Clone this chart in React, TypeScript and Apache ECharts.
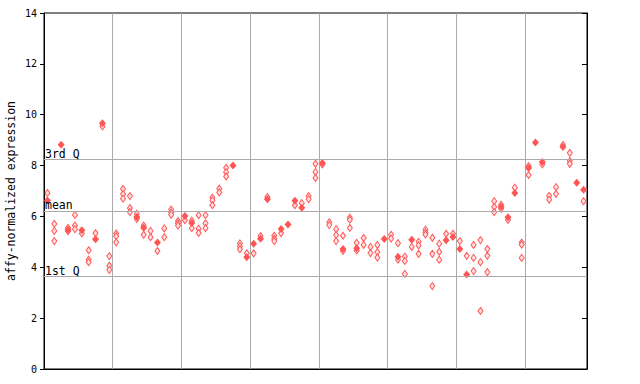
import React, { useEffect, useRef } from "react";
import * as echarts from "echarts";

// replicate values per sample (hollow diamonds)
const hollowValues: number[][] = [
  [6.92], [5.71, 5.43, 5.03], [], [5.55, 5.42], [6.06, 5.64, 5.5],
  [5.33], [4.67, 4.3, 4.2], [5.34], [9.54], [4.44, 4.06, 3.9],
  [5.33, 5.22, 4.98], [7.08, 6.88, 6.7], [6.8, 6.33, 6.17], [6.1, 5.9], [5.64, 5.28],
  [5.43, 5.18], [4.64], [5.53, 5.18], [6.27, 6.15, 6.07], [5.82, 5.73, 5.64],
  [5.85], [5.83, 5.54], [6.05, 5.52, 5.35], [6.05, 5.73, 5.54], [6.74, 6.63, 6.44],
  [7.09, 6.94], [7.91, 7.74, 7.57], [], [4.94, 4.82, 4.71], [4.55],
  [4.55], [5.23], [6.76], [5.24, 5.12, 5.03], [5.34],
  [], [6.44], [6.52], [6.8, 6.68], [8.07, 7.75, 7.51],
  [8.05], [5.77, 5.66], [5.5, 5.27, 5.03], [5.24, 4.64], [5.95, 5.87, 5.55],
  [4.96, 4.66], [5.15, 4.88], [4.8, 4.56], [4.88, 4.6, 4.38], [],
  [5.28, 5.13], [4.95, 4.3], [4.42, 4.25, 3.74], [4.8], [5.0, 4.86, 4.53],
  [5.48, 5.37, 5.29], [5.16, 4.53, 3.26], [4.93, 4.61, 4.3], [5.32], [5.32],
  [5.03], [4.45], [4.88, 4.37, 3.85], [5.07, 4.2, 2.28], [4.72, 4.45, 3.81],
  [6.6, 6.37, 6.17], [6.46, 6.3], [5.86], [7.13], [4.97, 4.89, 4.37],
  [7.98, 7.63], [], [8.05], [6.81, 6.66], [7.15, 6.89],
  [8.81], [8.5, 8.18, 8.07], [], [6.6],
];

// overlapping (filled) values per sample
const filledValues: (number | null)[] = [
  6.63, null, 8.82, 5.48, null, 5.46, null, 5.1, 9.66, null,
  null, null, null, 5.98, 5.55, null, 4.97, null, null, null,
  6.02, 5.74, null, null, null, null, null, 8.0, null, 4.39,
  4.93, 5.12, 6.68, null, 5.51, 5.68, 6.62, 6.34, null, null,
  8.1, null, null, 4.72, null, 4.75, null, null, null, 5.11,
  null, 4.41, null, 5.08, null, null, null, null, 5.06, 5.19,
  4.72, 3.72, null, null, null, null, 6.38, 5.97, 6.92, null,
  7.9, 8.91, 8.14, null, null, 8.73, null, 7.32, 7.05,
];

const refLines = [
  { name: "3rd Q", value: 8.23 },
  { name: "mean", value: 6.22 },
  { name: "1st Q", value: 3.63 },
];

const yTicks = { min: 0, max: 14, interval: 2 };
const groupSize = 10;
const sampleCount = hollowValues.length;

const RED = "#ff5555";
const MONO = "'DejaVu Sans Mono', monospace";

export default function App() {
  const ref = useRef<HTMLDivElement>(null);
  useEffect(() => {
    if (!ref.current) return;
    const chart = echarts.init(ref.current, null, { renderer: "svg" });

    const hollowData: number[][] = [];
    hollowValues.forEach((vals, i) => vals.forEach((v) => hollowData.push([i + 0.5, v])));
    const filledData: number[][] = [];
    filledValues.forEach((v, i) => {
      if (v != null) filledData.push([i + 0.5, v]);
    });

    chart.setOption({
      animation: false,
      grid: {
        left: 44,
        right: 53,
        top: 13,
        bottom: 15,
        containLabel: false,
        outerBoundsMode: "none",
        show: true,
        borderColor: "#000",
        borderWidth: 1,
        backgroundColor: "#fff",
      },
      xAxis: {
        type: "value",
        min: 0,
        max: sampleCount,
        interval: groupSize,
        axisLabel: { show: false },
        axisTick: { show: false },
        axisLine: { show: true, lineStyle: { color: "#000", width: 1 } },
        splitLine: { show: true, lineStyle: { color: "#aaaaaa", width: 1 } },
      },
      yAxis: [
        {
          type: "value",
          min: yTicks.min,
          max: yTicks.max,
          interval: yTicks.interval,
          position: "left",
          name: "affy-normalized expression",
          nameLocation: "middle",
          nameGap: 27,
          nameMoveOverlap: false,
          nameTextStyle: { fontFamily: MONO, fontSize: 11.5, color: "#000" },
          axisLine: { show: true, lineStyle: { color: "#000", width: 1 } },
          axisTick: { show: true, length: 4, lineStyle: { color: "#000" } },
          axisLabel: { fontFamily: MONO, fontSize: 10, color: "#000", margin: 7 },
          splitLine: { show: false },
        },
        {
          type: "value",
          min: yTicks.min,
          max: yTicks.max,
          interval: yTicks.interval,
          position: "right",
          axisLine: { show: true, lineStyle: { color: "#000", width: 1 } },
          axisTick: { show: true, inside: true, length: 5, lineStyle: { color: "#000" } },
          axisLabel: { show: false },
          splitLine: { show: false },
        },
      ],
      series: [
        {
          type: "scatter",
          name: "replicates",
          data: hollowData,
          symbol: "diamond",
          symbolSize: [5, 7],
          itemStyle: { color: "#ffe0e0", borderColor: RED, borderWidth: 1, opacity: 1 },
          markLine: {
            silent: true,
            symbol: "none",
            lineStyle: { color: "#aaaaaa", type: "solid", width: 1 },
            label: {
              position: "insideStartTop",
              distance: [1, 0],
              fontFamily: MONO,
              fontSize: 11.5,
              color: "#000",
              formatter: (p: any) => p.name,
            },
            data: refLines.map((r) => ({ name: r.name, yAxis: r.value })),
          },
          z: 3,
        },
        {
          type: "scatter",
          name: "overlap",
          data: filledData,
          symbol: "diamond",
          symbolSize: [7, 8],
          itemStyle: { color: RED, opacity: 1 },
          z: 4,
        },
      ],
    });
    return () => chart.dispose();
  }, []);
  return (
    <div
      ref={ref}
      style={{ position: "fixed", left: 0, top: 0, width: 640, height: 384, background: "#fff" }}
    />
  );
}
